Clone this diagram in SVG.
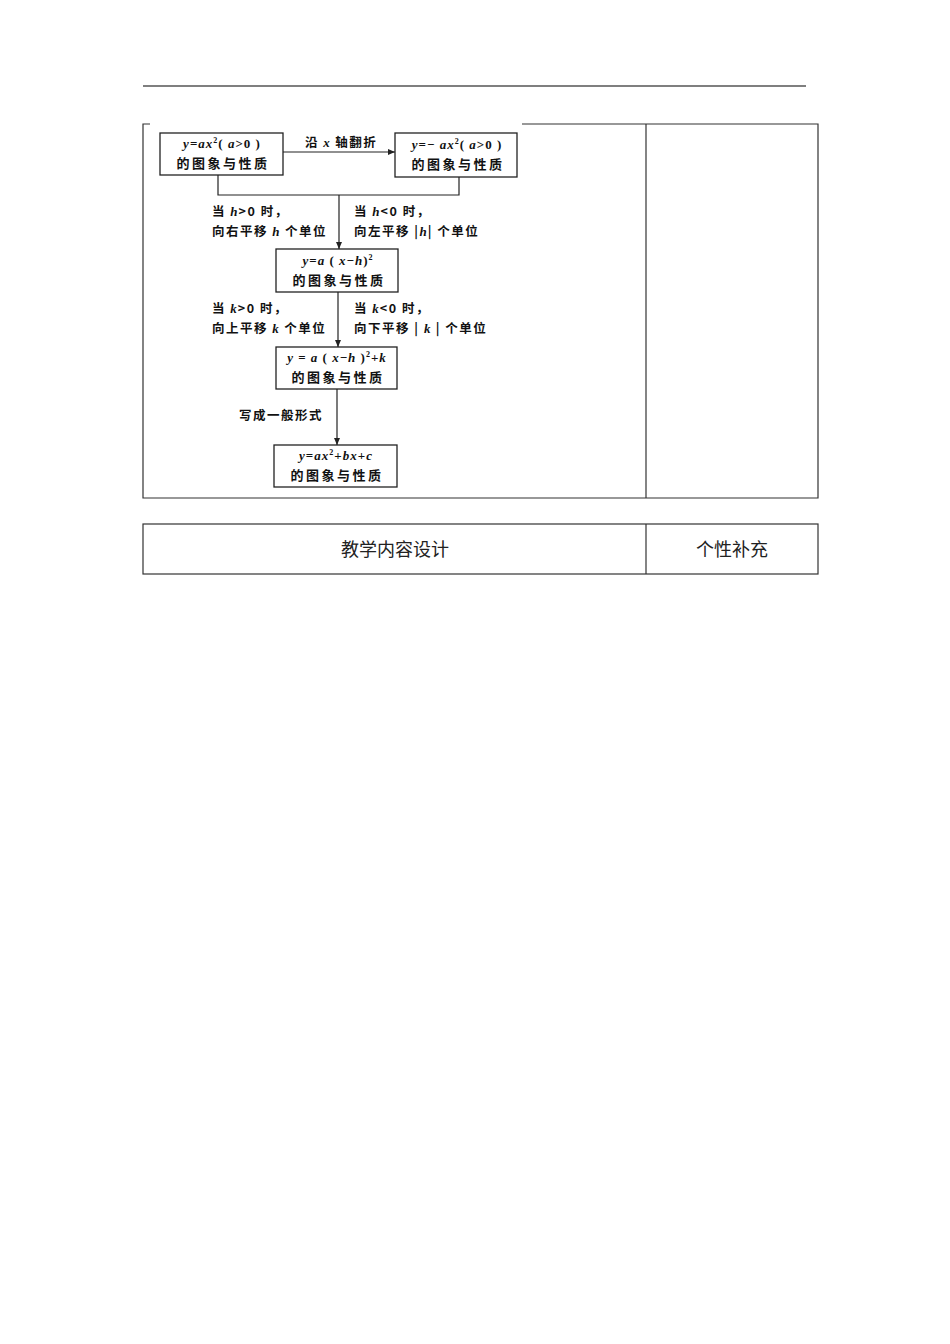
<svg xmlns="http://www.w3.org/2000/svg" width="950" height="1344" viewBox="0 0 950 1344">
<defs>
<style>
.tbl{stroke:#333;stroke-width:1.2;fill:none}
.box{fill:#fff;stroke:#222;stroke-width:1.3}
.ln{stroke:#222;stroke-width:1.2;fill:none}
.cn{font-family:"Noto Sans CJK SC","Noto Sans",sans-serif;font-weight:bold;font-size:12.5px;letter-spacing:1.5px;fill:#111}
.bx{font-family:"Noto Sans CJK SC","Noto Sans",sans-serif;font-weight:bold;font-size:13px;letter-spacing:2.5px;fill:#111}
.mt{font-family:"Liberation Serif","Noto Sans CJK SC",serif;font-weight:bold;font-size:13px;letter-spacing:1px;fill:#111}
.it{font-style:italic}
.hd{font-family:"Noto Sans CJK SC",sans-serif;font-weight:normal;font-size:18px;fill:#222}
</style>
<marker id="ah" markerWidth="8" markerHeight="8" refX="7" refY="4" orient="auto" markerUnits="userSpaceOnUse">
<path d="M0,1 L7,4 L0,7 Z" fill="#222"/>
</marker>
</defs>
<rect width="950" height="1344" fill="#fff"/>
<line x1="143" y1="86" x2="806" y2="86" stroke="#555" stroke-width="1.5"/>
<g id="table1">
<path class="tbl" d="M150,124 H143 V498 H818 V124 H522"/>
<line class="tbl" x1="646" y1="124" x2="646" y2="498"/>
</g>
<g id="table2">
<rect class="tbl" x="143" y="524" width="675" height="50"/>
<line class="tbl" x1="646" y1="524" x2="646" y2="574"/>
<text class="hd" x="395" y="556" text-anchor="middle">教学内容设计</text>
<text class="hd" x="732" y="556" text-anchor="middle">个性补充</text>
</g>
<g id="connectors">
<line class="ln" x1="283" y1="152" x2="395" y2="152" marker-end="url(#ah)"/>
<polyline class="ln" points="218,175 218,195 459,195 459,177"/>
<line class="ln" x1="339" y1="195" x2="339" y2="249" marker-end="url(#ah)"/>
<line class="ln" x1="338" y1="292" x2="338" y2="347" marker-end="url(#ah)"/>
<line class="ln" x1="337" y1="389" x2="337" y2="445" marker-end="url(#ah)"/>
<text class="cn" x="305" y="147">沿 <tspan class="mt it">x</tspan> 轴翻折</text>
<text class="cn" x="212" y="216">当 <tspan class="mt it">h</tspan>&gt;0 时，</text>
<text class="cn" x="212" y="236">向右平移 <tspan class="mt it">h</tspan> 个单位</text>
<text class="cn" x="354" y="216">当 <tspan class="mt it">h</tspan>&lt;0 时，</text>
<text class="cn" x="354" y="236">向左平移 |<tspan class="mt it">h</tspan>| 个单位</text>
<text class="cn" x="212" y="313">当 <tspan class="mt it">k</tspan>&gt;0 时，</text>
<text class="cn" x="212" y="333">向上平移 <tspan class="mt it">k</tspan> 个单位</text>
<text class="cn" x="354" y="313">当 <tspan class="mt it">k</tspan>&lt;0 时，</text>
<text class="cn" x="354" y="333">向下平移 | <tspan class="mt it">k</tspan> | 个单位</text>
<text class="cn" x="239" y="420">写成一般形式</text>
</g>
<g id="node1">
<rect class="box" x="160" y="133" width="123" height="42"/>
<text class="mt" x="222" y="148" text-anchor="middle"><tspan class="it">y</tspan>=<tspan class="it">ax</tspan><tspan dy="-5" font-size="8">2</tspan><tspan dy="5">( </tspan><tspan class="it">a</tspan>&gt;0 )</text>
<text class="bx" x="223" y="168" text-anchor="middle">的图象与性质</text>
</g>
<g id="node2">
<rect class="box" x="395" y="133" width="122" height="44"/>
<text class="mt" x="457" y="149" text-anchor="middle"><tspan class="it">y</tspan>=− <tspan class="it">ax</tspan><tspan dy="-5" font-size="8">2</tspan><tspan dy="5">( </tspan><tspan class="it">a</tspan>&gt;0 )</text>
<text class="bx" x="458" y="169" text-anchor="middle">的图象与性质</text>
</g>
<g id="node3">
<rect class="box" x="276" y="249" width="122" height="43"/>
<text class="mt" x="338" y="265" text-anchor="middle"><tspan class="it">y</tspan>=<tspan class="it">a</tspan> ( <tspan class="it">x</tspan>−<tspan class="it">h</tspan>)<tspan dy="-5" font-size="8">2</tspan></text>
<text class="bx" x="339" y="285" text-anchor="middle">的图象与性质</text>
</g>
<g id="node4">
<rect class="box" x="276" y="347" width="121" height="42"/>
<text class="mt" x="337" y="362" text-anchor="middle"><tspan class="it">y</tspan> = <tspan class="it">a</tspan> ( <tspan class="it">x</tspan>−<tspan class="it">h</tspan> )<tspan dy="-5" font-size="8">2</tspan><tspan dy="5">+</tspan><tspan class="it">k</tspan></text>
<text class="bx" x="338" y="382" text-anchor="middle">的图象与性质</text>
</g>
<g id="node5">
<rect class="box" x="274" y="445" width="123" height="42"/>
<text class="mt" x="336" y="460" text-anchor="middle"><tspan class="it">y</tspan>=<tspan class="it">ax</tspan><tspan dy="-5" font-size="8">2</tspan><tspan dy="5">+</tspan><tspan class="it">bx</tspan>+<tspan class="it">c</tspan></text>
<text class="bx" x="337" y="480" text-anchor="middle">的图象与性质</text>
</g>
</svg>
